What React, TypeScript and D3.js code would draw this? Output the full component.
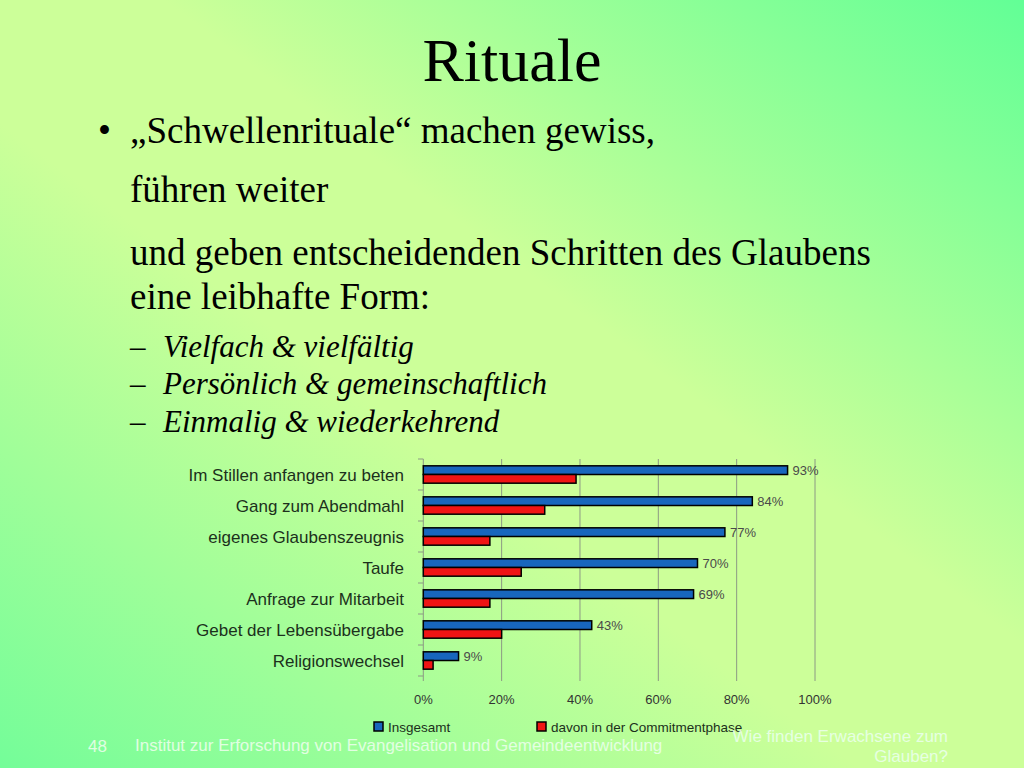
import React from "react";
import * as d3 from "d3";

const categories = [
  "Im Stillen anfangen zu beten",
  "Gang zum Abendmahl",
  "eigenes Glaubenszeugnis",
  "Taufe",
  "Anfrage zur Mitarbeit",
  "Gebet der Lebensübergabe",
  "Religionswechsel",
];
const insgesamt = [93, 84, 77, 70, 69, 43, 9];
const commitment = [39, 31, 17, 25, 17, 20, 2.5];
const xTicks = [0, 20, 40, 60, 80, 100];
const seriesNames = ["Insgesamt", "davon in der Commitmentphase"];

const bulletLines = [
  "„Schwellenrituale“ machen gewiss,",
  "führen weiter",
  "und geben entscheidenden Schritten des Glaubens",
  "eine leibhafte Form:",
];
const subItems = ["Vielfach & vielfältig", "Persönlich & gemeinschaftlich", "Einmalig & wiederkehrend"];

const BLUE = "#1866bd";
const RED = "#f01414";

export default function App() {
  const x = d3.scaleLinear().domain([0, 100]).range([423.3, 815]);
  const y = d3
    .scaleBand<string>()
    .domain(categories)
    .range([459, 676])
    .paddingInner(0.44)
    .paddingOuter(0.22);
  const step = y.step();
  const bh = y.bandwidth() / 2;
  const serif = "'Liberation Serif', 'Times New Roman', serif";
  const sans = "'Liberation Sans', Arial, sans-serif";
  const bulletBaselines = [143, 202, 265, 309];
  const subBaselines = [357, 394, 432];

  return (
    <svg
      width={1024}
      height={768}
      style={{ position: "absolute", left: 0, top: 0 }}
      xmlns="http://www.w3.org/2000/svg"
    >
      <defs>
        <linearGradient id="bg" x1="1" y1="0" x2="0" y2="1">
          <stop offset="0" stopColor="#62ff96" />
          <stop offset="0.42" stopColor="#ccff99" />
          <stop offset="0.58" stopColor="#ccff99" />
          <stop offset="1" stopColor="#74fd99" />
        </linearGradient>
      </defs>
      <rect x={0} y={0} width={1024} height={768} fill="url(#bg)" />

      {/* Title */}
      <text x={512} y={81} textAnchor="middle" fontFamily={serif} fontSize={62} fill="#000">
        Rituale
      </text>

      {/* Bullet text */}
      <text x={98} y={143} fontFamily={serif} fontSize={37} fill="#000">
        •
      </text>
      {bulletLines.map((t, i) => (
        <text key={t} x={130} y={bulletBaselines[i]} fontFamily={serif} fontSize={37} fill="#000">
          {t}
        </text>
      ))}
      {subItems.map((t, i) => (
        <g key={t}>
          <text x={130} y={subBaselines[i]} fontFamily={serif} fontSize={31} fill="#000">
            –
          </text>
          <text x={163} y={subBaselines[i]} fontFamily={serif} fontStyle="italic" fontSize={31} fill="#000">
            {t}
          </text>
        </g>
      ))}

      {/* Chart gridlines */}
      {xTicks.map((t) => (
        <line
          key={"g" + t}
          x1={x(t)}
          x2={x(t)}
          y1={459}
          y2={681}
          stroke="#8c9a84"
          strokeWidth={1}
        />
      ))}
      {/* left axis ticks */}
      {d3.range(categories.length + 1).map((i) => (
        <line
          key={"lt" + i}
          x1={418}
          x2={x(0)}
          y1={459 + i * step}
          y2={459 + i * step}
          stroke="#8c9a84"
          strokeWidth={1}
        />
      ))}

      {/* Bars */}
      {categories.map((c, i) => {
        const y0 = (y(c) as number);
        return (
          <g key={c}>
            <rect
              x={x(0)}
              y={y0}
              width={x(insgesamt[i]) - x(0)}
              height={bh}
              fill={BLUE}
              stroke="#000"
              strokeWidth={1.5}
            />
            <rect
              x={x(0)}
              y={y0 + bh}
              width={x(commitment[i]) - x(0)}
              height={bh}
              fill={RED}
              stroke="#000"
              strokeWidth={1.5}
            />
            <text
              x={x(insgesamt[i]) + 5}
              y={y0 + bh / 2 + 4.5}
              fontFamily={sans}
              fontSize={13}
              fill="#4a4a4a"
            >
              {insgesamt[i]}%
            </text>
            <text
              x={404}
              y={y0 + bh + 6}
              textAnchor="end"
              fontFamily={sans}
              fontSize={17}
              fill="#1c301c"
            >
              {c}
            </text>
          </g>
        );
      })}

      {/* X tick labels */}
      {xTicks.map((t) => (
        <text
          key={"t" + t}
          x={x(t)}
          y={704}
          textAnchor="middle"
          fontFamily={sans}
          fontSize={13}
          fill="#333"
        >
          {t}%
        </text>
      ))}

      {/* Legend */}
      <rect x={374} y={722} width={9} height={9} fill={BLUE} stroke="#000" strokeWidth={1.5} />
      <text x={388} y={731.5} fontFamily={sans} fontSize={13.5} fill="#1c301c">
        {seriesNames[0]}
      </text>
      <rect x={537} y={722} width={9} height={9} fill={RED} stroke="#000" strokeWidth={1.5} />
      <text x={551} y={731.5} fontFamily={sans} fontSize={13.5} fill="#1c301c">
        {seriesNames[1]}
      </text>

      {/* Footer */}
      <text x={88} y={752} fontFamily={sans} fontSize={17} fill="#eaffea" opacity={0.9}>
        48
      </text>
      <text x={135} y={751} fontFamily={sans} fontSize={17} fill="#eaffea" opacity={0.9}>
        Institut zur Erforschung von Evangelisation und Gemeindeentwicklung
      </text>
      <text x={948} y={742} textAnchor="end" fontFamily={sans} fontSize={17} fill="#eaffea" opacity={0.9}>
        Wie finden Erwachsene zum
      </text>
      <text x={948} y={762} textAnchor="end" fontFamily={sans} fontSize={17} fill="#eaffea" opacity={0.9}>
        Glauben?
      </text>
    </svg>
  );
}
